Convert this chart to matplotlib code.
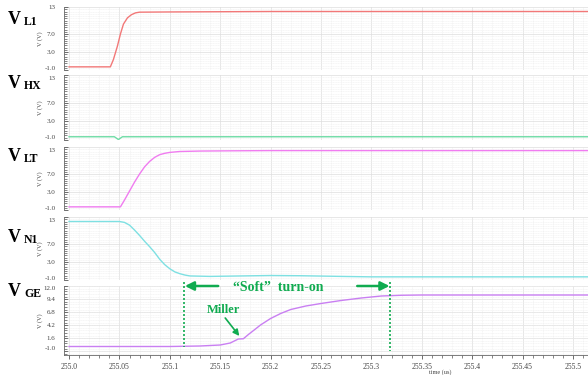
import numpy as np
import matplotlib
matplotlib.use("Agg")
import matplotlib.pyplot as plt
from matplotlib.ticker import FixedLocator, MultipleLocator
from matplotlib.transforms import ScaledTranslation

# ---------------- data ----------------
t_L1 = [255.0, 255.041, 255.044, 255.048, 255.051, 255.054, 255.058, 255.062, 255.066, 255.07, 255.1, 255.2, 255.3, 255.516]
v_L1 = [-0.3, -0.3, 1.3, 4.3, 7.0, 9.2, 10.6, 11.3, 11.7, 11.85, 11.9, 12.0, 12.0, 12.0]

t_HX = [255.0, 255.045, 255.049, 255.053, 255.516]
v_HX = [-0.3, -0.3, -0.9, -0.3, -0.3]

t_LT = [255.0, 255.051, 255.055, 255.06, 255.065, 255.07, 255.075, 255.08, 255.085, 255.09, 255.095,
        255.1, 255.11, 255.13, 255.16, 255.2, 255.516]
v_LT = [-0.3, -0.3, 1.2, 3.2, 5.2, 7.0, 8.6, 9.8, 10.7, 11.3, 11.6, 11.8, 12.0, 12.1, 12.15, 12.2, 12.2]

t_N1 = [255.0, 255.05, 255.055, 255.06, 255.065, 255.07, 255.075, 255.08, 255.085, 255.09, 255.095,
        255.1, 255.105, 255.11, 255.115, 255.12, 255.14, 255.17, 255.2, 255.23, 255.27, 255.3, 255.516]
v_N1 = [12.0, 12.0, 11.8, 11.2, 10.1, 8.9, 7.6, 6.4, 5.1, 3.6, 2.4, 1.5, 0.8, 0.4, 0.1, -0.1, -0.2,
        -0.1, 0.0, -0.05, -0.2, -0.3, -0.3]

t_GE = [255.0, 255.1, 255.13, 255.15, 255.16, 255.165, 255.168, 255.173, 255.178, 255.185, 255.19,
        255.2, 255.21, 255.22, 255.235, 255.25, 255.27, 255.29, 255.31, 255.33, 255.35, 255.516]
v_GE = [-0.1, -0.1, 0.0, 0.2, 0.6, 1.1, 1.4, 1.45, 2.3, 3.4, 4.2, 5.5, 6.5, 7.3, 8.0, 8.5, 9.1,
        9.6, 10.0, 10.15, 10.2, 10.2]

yticks_top = [-1.0, 3.0, 7.0, 13.0]
yticklabels_top = ["-1.0", "3.0", "7.0", "13"]
yticks_ge = [-1.0, 1.6, 4.2, 6.8, 9.4, 12.0]
yticklabels_ge = ["-1.0", "1.6", "4.2", "6.8", "9.4", "12.0"]
xticks = [255.0, 255.05, 255.1, 255.15, 255.2, 255.25, 255.3, 255.35, 255.4, 255.45, 255.5]
xticklabels = ["255.0", "255.05", "255.1", "255.15", "255.2", "255.25", "255.3", "255.35", "255.4", "255.45", "255.5"]

names = [("V", "L1"), ("V", "HX"), ("V", "LT"), ("V", "N1"), ("V", "GE")]
soft_start, soft_end = 255.114, 255.319

# ---------------- style ----------------
W, H = 588, 375
plt.rcParams['font.family'] = ['Liberation Serif', 'DejaVu Serif']
fig = plt.figure(figsize=(W / 100, H / 100), dpi=100)

colors = ["#f27878", "#6fdca6", "#f07cf0", "#7ee0e2", "#c97ff2"]
green = "#10ab50"

panels = [(7, 70), (75, 140), (147, 210), (217, 280), (286, 355)]
ylims = [(-1, 13), (-1, 13), (-1, 13), (-1, 13), (-1.8, 12.0)]
left_px = 64
xlim = (254.995, 255.515)

series = [(t_L1, v_L1), (t_HX, v_HX), (t_LT, v_LT), (t_N1, v_N1), (t_GE, v_GE)]
label_base = [24, 88, 161, 242, 296]

axes = []
for i, ((top, bot), yl, (tt, vv)) in enumerate(zip(panels, ylims, series)):
    ax = fig.add_axes([left_px / W, 1 - bot / H, (W - left_px) / W, (bot - top) / H])
    axes.append(ax)
    ax.plot(tt, vv, color=colors[i], lw=1.0, zorder=3)
    ax.set_xlim(*xlim)
    ax.set_ylim(*yl)
    for s in ["top", "right"]:
        ax.spines[s].set_visible(False)
    ax.spines["left"].set_color("#666666")
    ax.spines["left"].set_linewidth(0.6)
    if i < 4:
        ax.spines["bottom"].set_visible(False)
        ax.set_yticks(yticks_top)
        ax.set_yticklabels(yticklabels_top)
        ax.yaxis.set_minor_locator(MultipleLocator(0.5))
        ax.tick_params(axis="x", which="both", bottom=False, labelbottom=False)
    else:
        ax.spines["bottom"].set_color("#666666")
        ax.spines["bottom"].set_linewidth(0.6)
        ax.set_yticks(yticks_ge)
        ax.set_yticklabels(yticklabels_ge)
        ax.yaxis.set_minor_locator(MultipleLocator(0.52))
        ax.set_xticks(xticks)
        ax.set_xticklabels(xticklabels)
        ax.tick_params(axis="x", which="major", direction="out", length=3, width=0.6,
                       labelsize=5.5, labelcolor="#444444", color="#555555", pad=2.5)
        ax.tick_params(axis="x", which="minor", direction="out", length=1.8, width=0.5, color="#555555")
    ax.xaxis.set_major_locator(FixedLocator(xticks))
    ax.xaxis.set_minor_locator(MultipleLocator(0.01))
    ax.tick_params(axis="y", which="major", direction="in", length=3, width=0.6,
                   labelsize=5, labelcolor="#444444", color="#555555", pad=6)
    ax.tick_params(axis="y", which="minor", direction="in", length=1.8, width=0.5, color="#555555")
    # nudge extreme tick labels so neighbouring panels' labels don't collide
    ylabels = ax.get_yticklabels()
    ylabels[0].set_transform(ylabels[0].get_transform() + ScaledTranslation(0, 1.8 / 72, fig.dpi_scale_trans))
    if i > 0:
        ylabels[-1].set_transform(ylabels[-1].get_transform() + ScaledTranslation(0, -1.8 / 72, fig.dpi_scale_trans))
    ax.grid(True, which="major", color="#dddddd", lw=0.5, ls="-")
    ax.grid(True, which="minor", color="#eeeeee", lw=0.4, ls=(0, (2, 1)))
    ax.set_axisbelow(True)
    ax.set_ylabel("V (V)", fontsize=4.5, color="#444444", labelpad=1)
    ax.yaxis.set_label_coords(-0.04, 0.5)
    fig.text(8 / W, 1 - label_base[i] / H, names[i][0], fontsize=13, fontweight="bold",
             va="baseline", ha="left", color="black")
    fig.text(24 / W, 1 - (label_base[i] + 1) / H, names[i][1], fontsize=8.5, fontweight="bold",
             va="baseline", ha="left", color="black")

fig.text(440 / W, 1 - 372 / H, "time (us)", fontsize=4.5, color="#444444", ha="center", va="center")

# ---------------- annotations on V_GE ----------------
ax = axes[4]
ax.plot([soft_start, soft_start], [12.8, -0.1], ls=(0, (1.2, 1.2)), color=green, lw=1.2,
        clip_on=False, zorder=4)
ax.plot([soft_end, soft_end], [12.8, -1.0], ls=(0, (1.2, 1.2)), color=green, lw=1.2,
        clip_on=False, zorder=4)
arrow_kw = dict(arrowstyle="-|>", color=green, lw=1.8, mutation_scale=13, shrinkA=0, shrinkB=0)
ax.annotate("", xy=(soft_start + 0.001, 12.0), xytext=(255.148, 12.0),
            arrowprops=arrow_kw, annotation_clip=False)
ax.annotate("", xy=(soft_end - 0.001, 12.0), xytext=(255.286, 12.0),
            arrowprops=arrow_kw, annotation_clip=False)
ax.text(255.208, 11.7, "\u201cSoft\u201d  turn-on", color=green, fontsize=10, fontweight="bold",
        ha="center", va="center", zorder=5)
ax.text(255.153, 7.2, "Miller", color=green, fontsize=9, fontweight="bold",
        ha="center", va="center", zorder=5)
ax.annotate("", xy=(255.169, 2.0), xytext=(255.155, 5.6),
            arrowprops=dict(arrowstyle="-|>", color=green, lw=1.2, mutation_scale=9,
                            shrinkA=0, shrinkB=0))

fig.savefig("out.png", dpi=100)
